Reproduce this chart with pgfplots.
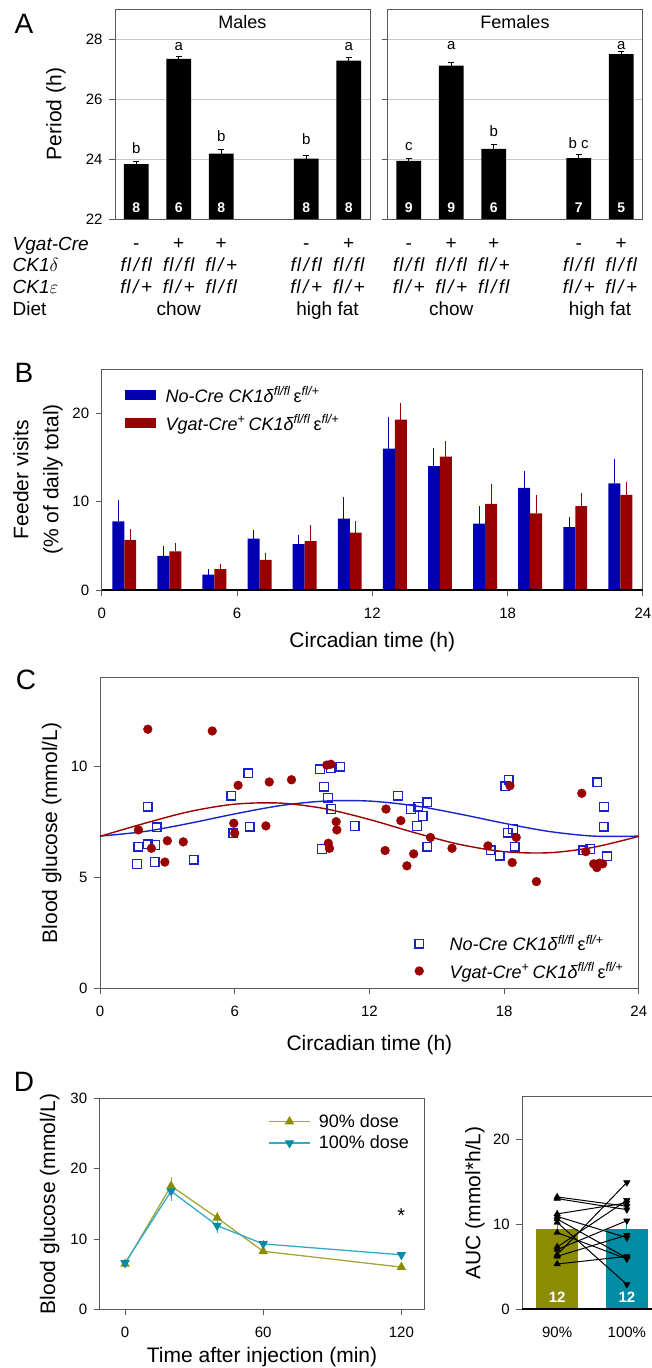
\documentclass[border=0pt]{standalone}
\usepackage{fix-cm}
\usepackage{fontspec}
\setmainfont{Liberation Sans}
\usepackage{pgfplots}
\pgfplotsset{compat=1.18}

\newcommand\fs[2]{\fontsize{#1}{#2}\selectfont}

\definecolor{bblue}{RGB}{0,0,178}
\definecolor{bred}{RGB}{150,0,0}
\definecolor{cblue}{RGB}{25,35,200}
\definecolor{cred}{RGB}{155,0,0}
\definecolor{olv}{RGB}{140,140,0}
\definecolor{olvl}{RGB}{165,165,60}
\definecolor{tel}{RGB}{0,140,165}
\definecolor{tell}{RGB}{50,170,200}
\definecolor{axgray}{RGB}{90,90,90}

\pgfplotsset{
  panel/.style={
    scale only axis, anchor=south west, clip=false,
    axis line style={axgray, line width=0.9pt},
    tick style={axgray, line width=0.9pt},
    major tick length=6pt, tick align=outside,
    xtick pos=bottom, ytick pos=left,
    tick label style={font=\fs{15}{18}},
    xticklabel style={yshift=-8pt},
    yticklabel style={xshift=-3pt},
    label style={font=\fs{21}{25}},
    ylabel style={anchor=center},
    xlabel style={anchor=center},
    /pgf/number format/assume math mode=true,
  },
  periodA/.style={
    panel, width=255pt, height=210pt,
    xmin=0.5, xmax=6.5, ymin=22, ymax=29, xtick=\empty, ytick={22,24,26,28},
    ymajorgrids, grid style={black!22, line width=0.9pt},
    title style={at={(0.5,1)}, anchor=center, yshift=-19pt, font=\fs{18}{21}},
  },
  blackbar/.style={ybar, bar shift=0pt, bar width=0.58, fill=black, draw=none,
    error bars/.cd, y dir=plus, y explicit,
    error bar style={black, line width=0.9pt},
    error mark options={rotate=90, mark size=3pt, line width=0.9pt}},
}

% genotype table helpers
\newcommand\ff{\itshape f\kern0.8pt l\kern2.6pt/\kern2.6pt f\kern0.8pt l}
\newcommand\fp{\itshape f\kern0.8pt l\kern2.6pt/\kern2.6pt+}
\newcommand\gv[3]{\node[anchor=base, inner sep=0pt, font=\fs{19}{22}] at (axis cs:#1,#2) {#3};}
\newcommand\nn[2]{\node[text=white, font=\fs{14}{16}\bfseries] at (axis cs:#1,22.37) {#2};}
\newcommand\gtable{%
  \gv{1}{20.967}{-}\gv{2}{20.967}{+}\gv{3}{20.967}{+}\gv{5}{20.967}{-}\gv{6}{20.967}{+}
  \gv{1}{20.243}{\ff}\gv{2}{20.243}{\ff}\gv{3}{20.243}{\fp}
  \gv{5}{20.243}{\ff}\gv{6}{20.243}{\ff}
  \gv{1}{19.523}{\fp}\gv{2}{19.523}{\fp}\gv{3}{19.523}{\ff}
  \gv{5}{19.523}{\fp}\gv{6}{19.523}{\fp}
  \gv{2}{18.8}{chow}\gv{5.5}{18.8}{high fat}}

\begin{document}
\begin{tikzpicture}
\useasboundingbox (0pt,0pt) rectangle (651pt,-1368pt);

% panel letters
\node[font=\fs{28}{32}] at (24pt,-24pt) {A};
\node[font=\fs{28}{32}] at (24pt,-373pt) {B};
\node[font=\fs{28}{32}] at (26pt,-680pt) {C};
\node[font=\fs{28}{32}] at (24pt,-1082pt) {D};

% ---------------- A: males
\begin{axis}[periodA, at={(115pt,-219pt)}, title={Males},
  ylabel={Period (h)}, ylabel style={at={(rel axis cs:-0.232,0.5)}}]
\addplot[blackbar] coordinates {(1,23.83) +- (0,0.10) (2,27.34) +- (0,0.08)
  (3,24.18) +- (0,0.13) (5,24.01) +- (0,0.12) (6,27.28) +- (0,0.10)};
\node[anchor=base, inner sep=0pt, font=\fs{15}{18}] at (axis cs:1,24.17) {b};
\node[anchor=base, inner sep=0pt, font=\fs{15}{18}] at (axis cs:2,27.63) {a};
\node[anchor=base, inner sep=0pt, font=\fs{15}{18}] at (axis cs:3,24.58) {b};
\node[anchor=base, inner sep=0pt, font=\fs{15}{18}] at (axis cs:5,24.50) {b};
\node[anchor=base, inner sep=0pt, font=\fs{15}{18}] at (axis cs:6,27.63) {a};
\nn{1}{8}\nn{2}{6}\nn{3}{8}\nn{5}{8}\nn{6}{8}
\gtable
\end{axis}

% ---------------- A: females
\begin{axis}[periodA, at={(387.5pt,-219pt)}, title={Females}, yticklabels={}]
\addplot[blackbar] coordinates {(1,23.94) +- (0,0.07) (2,27.11) +- (0,0.10)
  (3,24.34) +- (0,0.15) (5,24.03) +- (0,0.12) (6,27.50) +- (0,0.08)};
\node[anchor=base, inner sep=0pt, font=\fs{15}{18}] at (axis cs:1,24.28) {c};
\node[anchor=base, inner sep=0pt, font=\fs{15}{18}] at (axis cs:2,27.66) {a};
\node[anchor=base, inner sep=0pt, font=\fs{15}{18}] at (axis cs:3,24.74) {b};
\node[anchor=base, inner sep=0pt, font=\fs{15}{18}] at (axis cs:5,24.36) {b c};
\node[anchor=base, inner sep=0pt, font=\fs{15}{18}] at (axis cs:6,27.66) {a};
\nn{1}{9}\nn{2}{9}\nn{3}{6}\nn{5}{7}\nn{6}{5}
\gtable
\end{axis}

% genotype row labels
\node[anchor=base west, inner sep=0pt, font=\fs{19}{22}] at (12.5pt,-250pt) {\textit{Vgat-Cre}};
\node[anchor=base west, inner sep=0pt, font=\fs{19}{22}] at (12.5pt,-271.7pt) {\textit{CK1}$\delta$};
\node[anchor=base west, inner sep=0pt, font=\fs{19}{22}] at (12.5pt,-293.3pt) {\textit{CK1}$\varepsilon$};
\node[anchor=base west, inner sep=0pt, font=\fs{19}{22}] at (12.5pt,-315pt) {Diet};

% ---------------- B
\begin{axis}[panel, at={(101.7pt,-590pt)}, width=541.2pt, height=221pt,
  xmin=0, xmax=24, ymin=0, ymax=25, xtick={0,6,12,18,24}, ytick={0,10,20},
  ylabel={Feeder visits\\(\% of daily total)},
  ylabel style={align=center, font=\fs{21}{30}, at={(rel axis cs:-0.118,0.5)}},
  xlabel={Circadian time (h)}, xlabel style={at={(rel axis cs:0.5,-0.234)}},
  legend style={at={(0.042,0.93)}, anchor=north west, draw=none, fill=none,
    inner sep=0pt, row sep=7pt, column sep=8pt, font=\fs{18}{21}},
  legend cell align=left]
\addplot[ybar, bar shift=0pt, bar width=0.53, fill=bblue, draw=none,
  legend image code/.code={\fill[bblue] (0pt,-5pt) rectangle (31pt,5pt);},
  error bars/.cd, y dir=plus, y explicit, error bar style={bblue, line width=1pt}, error mark=none]
  coordinates {(0.735,7.77) +- (0,2.43) (2.735,3.86) +- (0,1.14) (4.735,1.74) +- (0,0.61)
  (6.735,5.80) +- (0,1.00) (8.735,5.19) +- (0,1.06) (10.735,8.07) +- (0,2.43)
  (12.735,16.00) +- (0,3.60) (14.735,14.00) +- (0,2.10) (16.735,7.50) +- (0,2.05)
  (18.735,11.55) +- (0,1.90) (20.735,7.12) +- (0,1.10) (22.735,12.05) +- (0,2.72)};
\addlegendentry{\textit{No-Cre CK1δ}\textsuperscript{\textit{fl/fl}}\,ε\textsuperscript{\textit{fl/+}}}
\addplot[ybar, bar shift=0pt, bar width=0.53, fill=bred, draw=none,
  legend image code/.code={\fill[bred] (0pt,-5pt) rectangle (31pt,5pt);},
  error bars/.cd, y dir=plus, y explicit, error bar style={bred, line width=1pt}, error mark=none]
  coordinates {(1.265,5.68) +- (0,1.22) (3.265,4.36) +- (0,0.94) (5.265,2.35) +- (0,0.60)
  (7.265,3.40) +- (0,0.84) (9.265,5.53) +- (0,1.82) (11.265,6.48) +- (0,1.29)
  (13.265,19.28) +- (0,1.92) (15.265,15.10) +- (0,1.70) (17.265,9.73) +- (0,2.24)
  (19.265,8.67) +- (0,2.13) (21.265,9.50) +- (0,1.48) (23.265,10.76) +- (0,1.51)};
\addlegendentry{\textit{Vgat-Cre}\textsuperscript{+}\,\textit{CK1δ}\textsuperscript{\textit{fl/fl}}\,ε\textsuperscript{\textit{fl/+}}}
\draw[black, line width=1.6pt] (axis cs:0,0) -- (axis cs:24,0);
\end{axis}

% ---------------- C
\begin{axis}[panel, at={(100pt,-988.3pt)}, width=538.8pt, height=310.6pt,
  xmin=0, xmax=24, ymin=0, ymax=14, xtick={0,6,12,18,24}, ytick={0,5,10},
  ylabel={Blood glucose (mmol/L)}, ylabel style={at={(rel axis cs:-0.0896,0.5)}},
  xlabel={Circadian time (h)}, xlabel style={at={(rel axis cs:0.5,-0.1826)}},
  legend style={at={(0.584,0.178)}, anchor=north west, draw=none, fill=none,
    inner sep=0pt, row sep=6pt, column sep=24pt, font=\fs{18}{21}},
  legend cell align=left,
  legend image code/.code={\draw[#1] plot coordinates {(0pt,0pt)};}]
\addplot[cblue, line width=1.4pt, smooth, forget plot] coordinates {(0,6.86) (2,7.07) (4,7.44)
  (6,7.86) (8,8.23) (10,8.44) (12,8.44) (14,8.23) (16,7.86) (18,7.44) (20,7.07) (22,6.86) (24,6.86)};
\addplot[cred, line width=1.4pt, smooth, forget plot] coordinates {(0,6.85) (2,7.44) (4,7.97)
  (6,8.30) (8,8.35) (10,8.10) (12,7.61) (14,7.02) (16,6.49) (18,6.16) (20,6.11) (22,6.36) (24,6.85)};
\addplot[only marks, mark=square, mark size=4.3pt, cblue, line width=1.4pt] coordinates {
  (1.65,5.60) (1.71,6.39) (2.13,8.19) (2.13,6.49) (2.47,6.46) (2.52,7.26) (2.44,5.69) (4.17,5.79)
  (5.85,8.68) (6.60,9.69) (5.93,6.99) (6.66,7.29) (9.80,9.88) (10.28,9.91) (10.71,9.99) (9.98,9.09)
  (10.16,8.59) (10.31,8.08) (11.35,7.32) (9.89,6.28) (13.27,8.68) (13.85,8.08) (14.18,8.19)
  (14.57,8.38) (14.37,7.77) (14.12,7.32) (14.57,6.39) (17.40,6.22) (17.81,5.98) (18.06,9.10)
  (18.20,9.40) (18.16,7.02) (18.40,7.18) (18.48,6.39) (22.16,9.28) (22.45,8.19) (22.43,7.29)
  (21.52,6.22) (21.83,6.28) (22.58,5.95)};
\addlegendentry{\textit{No-Cre CK1δ}\textsuperscript{\textit{fl/fl}}\,ε\textsuperscript{\textit{fl/+}}}
\addplot[only marks, mark=*, mark size=4.4pt, cred, mark options={fill=cred, draw=cred}] coordinates {
  (2.13,11.68) (5.00,11.60) (1.71,7.14) (2.29,6.31) (2.89,5.69) (3.00,6.65) (3.71,6.60) (6.15,9.15)
  (5.96,7.44) (6.00,6.99) (7.54,9.30) (7.39,7.32) (8.53,9.40) (10.10,10.06) (10.28,10.10)
  (10.52,7.51) (10.55,7.14) (10.17,6.54) (10.22,6.31) (12.74,8.08) (13.40,7.56) (14.72,6.80)
  (12.70,6.21) (13.97,6.06) (13.67,5.52) (15.68,6.31) (17.28,6.42) (18.26,9.13) (18.54,6.80)
  (18.36,5.67) (19.44,4.81) (21.46,8.79) (21.64,6.16) (21.99,5.61) (22.24,5.64) (22.39,5.61)
  (22.13,5.44)};
\addlegendentry{\textit{Vgat-Cre}\textsuperscript{+}\,\textit{CK1δ}\textsuperscript{\textit{fl/fl}}\,ε\textsuperscript{\textit{fl/+}}}
\end{axis}

% ---------------- D left
\begin{axis}[panel, at={(99.7pt,-1309.3pt)}, width=324.7pt, height=211pt,
  xmin=-11, xmax=130, ymin=0, ymax=30, xtick={0,60,120}, ytick={0,10,20,30},
  ylabel={Blood glucose (mmol/L)}, ylabel style={at={(rel axis cs:-0.1537,0.5)}},
  xlabel={Time after injection (min)}, xlabel style={at={(rel axis cs:0.5,-0.2246)}},
  legend style={at={(0.518,0.935)}, anchor=north west, draw=none, fill=none,
    inner sep=0pt, row sep=3pt, column sep=6pt, font=\fs{18}{21}},
  legend cell align=left,
  legend image code/.code={\draw[mark repeat=2, mark phase=2, #1] plot coordinates {(0pt,0pt) (20.75pt,0pt) (41.5pt,0pt)};}]
\addplot[olvl, line width=1.3pt, mark=triangle*, mark size=4.2pt, mark options={fill=olv, draw=olv},
  error bars/.cd, y dir=both, y explicit, error bar style={olvl, line width=1pt}, error mark=none]
  coordinates {(0,6.45) +- (0,0.3) (20,17.55) +- (0,1.3) (40,13.0) +- (0,0.9) (60,8.25) +- (0,0.3) (120,6.0) +- (0,0.3)};
\addlegendentry{90\% dose}
\addplot[tell, line width=1.3pt, mark=triangle*, mark size=4.2pt, mark options={rotate=180, fill=tel, draw=tel},
  error bars/.cd, y dir=both, y explicit, error bar style={tell, line width=1pt}, error mark=none]
  coordinates {(0,6.6) +- (0,0.3) (20,16.8) +- (0,1.4) (40,11.9) +- (0,1.1) (60,9.3) +- (0,0.5) (120,7.75) +- (0,0.4)};
\addlegendentry{100\% dose}
\node[font=\fs{20}{22}] at (axis cs:120,13.3) {*};
\end{axis}

% ---------------- D right
\begin{axis}[panel, at={(522.3pt,-1309pt)}, width=139.4pt, height=212.3pt,
  xmin=0.5, xmax=2.5, ymin=0, ymax=25, xtick={1,2}, xticklabels={90\%,100\%},
  ytick={0,10,20}, xtick style={draw=none},
  ylabel={AUC (mmol*h/L)}, ylabel style={at={(rel axis cs:-0.339,0.5)}}]
\addplot[ybar, bar shift=0pt, bar width=0.6, fill=olv, draw=none,
  error bars/.cd, y dir=plus, y explicit, error bar style={olv, line width=1pt}, error mark=none]
  coordinates {(1,9.42) +- (0,0.8)};
\addplot[ybar, bar shift=0pt, bar width=0.6, fill=tel, draw=none,
  error bars/.cd, y dir=plus, y explicit, error bar style={tel, line width=1pt}, error mark=none]
  coordinates {(2,9.42) +- (0,0.8)};
\addplot[black, line width=1pt] coordinates {(1,13.2) (2,12.1)};
\addplot[black, line width=1pt] coordinates {(1,13.0) (2,11.7)};
\addplot[black, line width=1pt] coordinates {(1,11.2) (2,12.5)};
\addplot[black, line width=1pt] coordinates {(1,10.9) (2,8.4)};
\addplot[black, line width=1pt] coordinates {(1,10.6) (2,6.0)};
\addplot[black, line width=1pt] coordinates {(1,10.2) (2,2.9)};
\addplot[black, line width=1pt] coordinates {(1,9.0) (2,5.9)};
\addplot[black, line width=1pt] coordinates {(1,7.3) (2,12.8)};
\addplot[black, line width=1pt] coordinates {(1,7.0) (2,10.4)};
\addplot[black, line width=1pt] coordinates {(1,6.4) (2,14.9)};
\addplot[black, line width=1pt] coordinates {(1,6.2) (2,8.7)};
\addplot[black, line width=1pt] coordinates {(1,5.3) (2,6.2)};
\addplot[only marks, mark=triangle*, mark size=3.8pt, black] coordinates {(1,13.2) (1,13.0) (1,11.2)
  (1,10.9) (1,10.6) (1,10.2) (1,9.0) (1,7.3) (1,7.0) (1,6.4) (1,6.2) (1,5.3)};
\addplot[only marks, mark=triangle*, mark size=3.8pt, black, mark options={rotate=180}] coordinates {(2,12.1)
  (2,11.7) (2,12.5) (2,8.4) (2,6.0) (2,2.9) (2,5.9) (2,12.8) (2,10.4) (2,14.9) (2,8.7) (2,6.2)};
\node[text=white, font=\fs{15}{17}\bfseries] at (axis cs:1,1.33) {12};
\node[text=white, font=\fs{15}{17}\bfseries] at (axis cs:2,1.33) {12};
\draw[black, line width=1.6pt] (axis cs:0.5,0) -- (axis cs:2.5,0);
\end{axis}
\end{tikzpicture}
\end{document}
